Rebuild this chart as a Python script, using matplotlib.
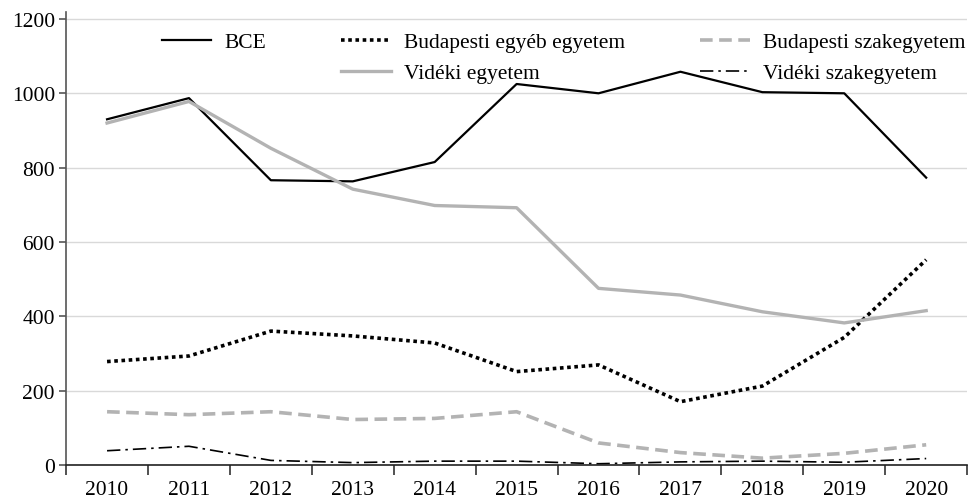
import matplotlib.pyplot as plt
import numpy as np
from matplotlib.lines import Line2D

plt.rcParams['font.family'] = ['Liberation Serif', 'DejaVu Serif']
plt.rcParams['font.size'] = 15.5

years = ['2010', '2011', '2012', '2013', '2014', '2015', '2016', '2017', '2018', '2019', '2020']
bce = [930, 987, 766, 763, 815, 1025, 1000, 1058, 1003, 1000, 773]
bp_egyeb = [278, 293, 360, 347, 328, 251, 269, 170, 212, 343, 552]
bp_szak = [143, 135, 143, 122, 125, 143, 59, 33, 18, 31, 54]
vid_egyetem = [920, 978, 852, 742, 698, 692, 475, 457, 412, 382, 415]
vid_szak = [38, 50, 12, 6, 10, 10, 3, 8, 10, 7, 17]

gray = '#b3b3b3'
x = np.arange(len(years))

fig = plt.figure(figsize=(9.72, 5.02), dpi=100)
ax = fig.add_axes([0.068, 0.072, 0.927, 0.903])

ax.grid(axis='y', color='#d9d9d9', linewidth=1)
ax.set_axisbelow(True)

l1, = ax.plot(x, bce, color='black', lw=1.6, label='BCE')
l2, = ax.plot(x, bp_egyeb, color='black', lw=2.6, linestyle=(0, (1, 1)), label='Budapesti egyéb egyetem')
l3, = ax.plot(x, bp_szak, color=gray, lw=2.6, linestyle=(0, (3.5, 1.8)), label='Budapesti szakegyetem')
l4, = ax.plot(x, vid_egyetem, color=gray, lw=2.4, label='Vidéki egyetem')
l5, = ax.plot(x, vid_szak, color='black', lw=1.2, linestyle=(0, (8, 3, 1.5, 3)), label='Vidéki szakegyetem')

# blank entry keeps the first legend column to one row
blank = Line2D([], [], color='none')
handles = [l1, blank, l2, l4, l3, l5]
labels = ['BCE', '', 'Budapesti egyéb egyetem', 'Vidéki egyetem', 'Budapesti szakegyetem', 'Vidéki szakegyetem']
ax.legend(handles, labels, ncol=3, frameon=False, loc='upper center',
          bbox_to_anchor=(0.552, 0.997), handlelength=2.3, columnspacing=3.5,
          handletextpad=0.6, labelspacing=0.5)

ax.set_xlim(-0.5, len(years) - 0.5)
ax.set_ylim(0, 1220)
ax.set_yticks(range(0, 1201, 200))

ax.set_xticks(np.arange(-0.5, len(years), 1))
ax.set_xticklabels([])
ax.set_xticks(x, minor=True)
ax.set_xticklabels(years, minor=True)
ax.tick_params(axis='x', which='major', length=7, width=1.2, color='#333333', direction='out')
ax.tick_params(axis='x', which='minor', length=0, pad=11)
ax.tick_params(axis='y', length=5, width=1.2, color='#555555', pad=3)

for s in ['top', 'right']:
    ax.spines[s].set_visible(False)
ax.spines['left'].set_color('#555555')
ax.spines['left'].set_linewidth(1.2)
ax.spines['bottom'].set_color('#222222')
ax.spines['bottom'].set_linewidth(1.2)

fig.savefig('out.png', dpi=100)
